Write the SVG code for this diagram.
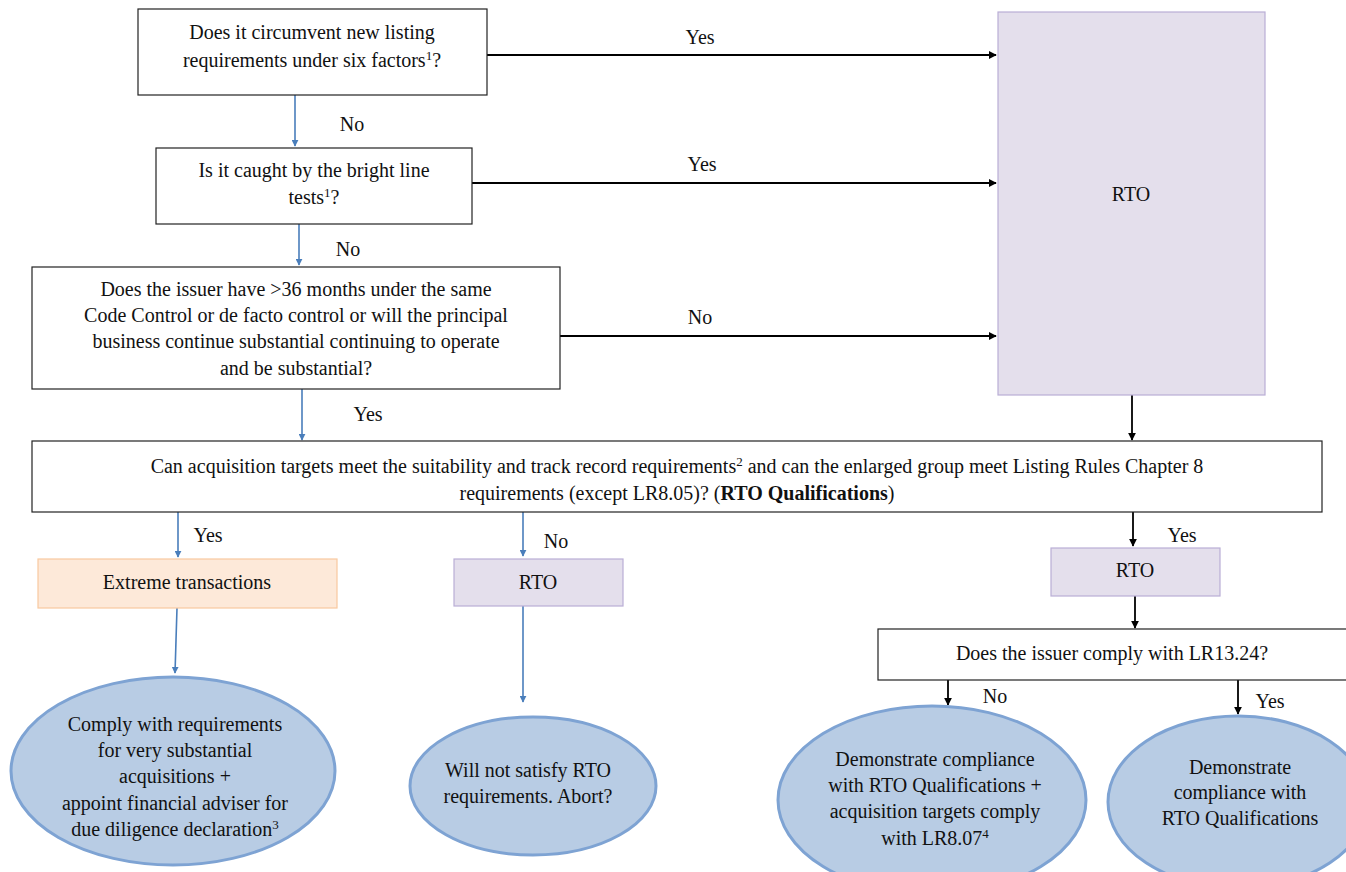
<svg xmlns="http://www.w3.org/2000/svg" width="1346" height="872" viewBox="0 0 1346 872">
<defs>
<style>
text{font-size:20px;fill:#111;text-anchor:middle}
.box{fill:#fff;stroke:#222;stroke-width:1.2}
.rto{fill:#E4DFEC;stroke:#B9AED6;stroke-width:1.2}
.ext{fill:#FDE9D9;stroke:#F9C99F;stroke-width:1.2}
.ell{fill:#B8CCE4;stroke:#7EA3D3;stroke-width:3}
.blue{stroke:#4A7EBB;stroke-width:1.6;fill:none;marker-end:url(#ab)}
.blk{stroke:#000;stroke-width:1.8;fill:none;marker-end:url(#ak)}
.sup{font-size:13px}
</style>
<marker id="ab" viewBox="0 0 10 10" refX="9" refY="5" markerWidth="7" markerHeight="7" markerUnits="userSpaceOnUse" orient="auto"><path d="M0,0 L10,5 L0,10 z" fill="#4A7EBB"/></marker>
<marker id="ak" viewBox="0 0 10 10" refX="9" refY="5" markerWidth="8" markerHeight="8" markerUnits="userSpaceOnUse" orient="auto"><path d="M0,0 L10,5 L0,10 z" fill="#000"/></marker>
</defs>
<rect width="1346" height="872" fill="#fff"/>
<g font-family="Liberation Serif, DejaVu Serif, serif">
<g id="connectors">
<line class="blue" x1="295" y1="95" x2="295" y2="146"/>
<line class="blue" x1="299" y1="224" x2="299" y2="265"/>
<line class="blue" x1="302" y1="389" x2="302" y2="440"/>
<line class="blk" x1="487" y1="55" x2="996" y2="55"/>
<line class="blk" x1="472" y1="183" x2="996" y2="183"/>
<line class="blk" x1="560" y1="336" x2="996" y2="336"/>
<line class="blk" x1="1132" y1="395" x2="1132" y2="440"/>
<line class="blue" x1="178" y1="512" x2="178" y2="557"/>
<line class="blue" x1="523" y1="512" x2="523" y2="556"/>
<line class="blk" x1="1133" y1="512" x2="1133" y2="546"/>
<line class="blk" x1="1135" y1="596" x2="1135" y2="628"/>
<line class="blue" x1="177" y1="608" x2="175" y2="673"/>
<line class="blue" x1="523" y1="606" x2="523" y2="702"/>
<line class="blk" x1="948" y1="680" x2="948" y2="705"/>
<line class="blk" x1="1238" y1="680" x2="1238" y2="714"/>
<text x="352" y="131">No</text>
<text x="348" y="256">No</text>
<text x="368" y="421">Yes</text>
<text x="700" y="44">Yes</text>
<text x="702" y="171">Yes</text>
<text x="700" y="324">No</text>
<text x="208" y="542">Yes</text>
<text x="556" y="548">No</text>
<text x="1182" y="542">Yes</text>
<text x="995" y="703">No</text>
<text x="1270" y="708">Yes</text>
</g>

<g id="q1">
<rect class="box" x="138" y="9" width="349" height="86"/>
<text x="312" y="39">Does it circumvent new listing</text>
<text x="312" y="67">requirements under six factors<tspan class="sup" dy="-7">1</tspan><tspan dy="7">?</tspan></text>
</g>

<g id="q2">
<rect class="box" x="156" y="148" width="316" height="76"/>
<text x="314" y="177">Is it caught by the bright line</text>
<text x="314" y="204">tests<tspan class="sup" dy="-7">1</tspan><tspan dy="7">?</tspan></text>
</g>

<g id="q3">
<rect class="box" x="32" y="267" width="528" height="122"/>
<text x="296" y="296">Does the issuer have &gt;36 months under the same</text>
<text x="296" y="322">Code Control or de facto control or will the principal</text>
<text x="296" y="348">business continue substantial continuing to operate</text>
<text x="296" y="375">and be substantial?</text>
</g>

<g id="rtoBig">
<rect class="rto" x="998" y="12" width="267" height="383"/>
<text x="1131" y="201">RTO</text>
</g>

<g id="q4">
<rect class="box" x="32" y="441" width="1290" height="71"/>
<text x="677" y="473">Can acquisition targets meet the suitability and track record requirements<tspan class="sup" dy="-7">2</tspan><tspan dy="7"> and can the enlarged group meet Listing Rules Chapter 8</tspan></text>
<text x="677" y="500">requirements (except LR8.05)? (<tspan font-weight="bold">RTO Qualifications</tspan>)</text>
</g>

<g id="extreme">
<rect class="ext" x="38" y="559" width="299" height="49"/>
<text x="187" y="589">Extreme transactions</text>
</g>

<g id="rtoMid">
<rect class="rto" x="454" y="559" width="169" height="47"/>
<text x="538" y="589">RTO</text>
</g>

<g id="rtoRight">
<rect class="rto" x="1051" y="548" width="169" height="48"/>
<text x="1135" y="577">RTO</text>
</g>

<g id="q5">
<rect class="box" x="878" y="629" width="470" height="51"/>
<text x="1112" y="660">Does the issuer comply with LR13.24?</text>
</g>

<g id="e1">
<ellipse class="ell" cx="173" cy="771" rx="162" ry="94"/>
<text x="175" y="731">Comply with requirements</text>
<text x="175" y="757">for very substantial</text>
<text x="175" y="783">acquisitions +</text>
<text x="175" y="810">appoint financial adviser for</text>
<text x="175" y="836">due diligence declaration<tspan class="sup" dy="-7">3</tspan></text>
</g>

<g id="e2">
<ellipse class="ell" cx="533" cy="786" rx="123" ry="69"/>
<text x="528" y="777">Will not satisfy RTO</text>
<text x="528" y="803">requirements. Abort?</text>
</g>

<g id="e3">
<ellipse class="ell" cx="932" cy="800" rx="154" ry="94"/>
<text x="935" y="766">Demonstrate compliance</text>
<text x="935" y="792">with RTO Qualifications +</text>
<text x="935" y="818">acquisition targets comply</text>
<text x="935" y="845">with LR8.07<tspan class="sup" dy="-7">4</tspan></text>
</g>

<g id="e4">
<ellipse class="ell" cx="1238" cy="802" rx="130" ry="86"/>
<text x="1240" y="774">Demonstrate</text>
<text x="1240" y="799">compliance with</text>
<text x="1240" y="825">RTO Qualifications</text>
</g>
</g>
</svg>
